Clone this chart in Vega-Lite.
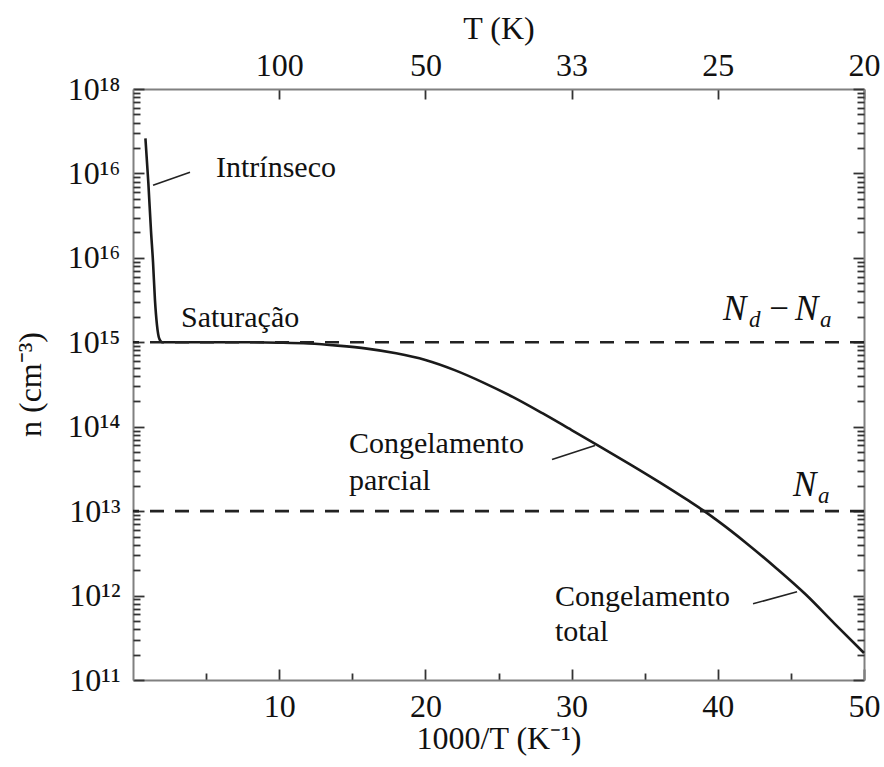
{
  "$schema": "https://vega.github.io/schema/vega-lite/v6.json",
  "width": 731,
  "height": 591,
  "autosize": "none",
  "padding": {"left": 133, "top": 89, "right": 20, "bottom": 87},
  "background": "white",
  "config": {
    "view": {"stroke": null},
    "font": "Liberation Serif, Times New Roman, serif",
    "axis": {
      "labelFont": "Liberation Serif, Times New Roman, serif",
      "titleFont": "Liberation Serif, Times New Roman, serif",
      "labelColor": "#111",
      "titleColor": "#111",
      "labelFontSize": 32,
      "titleFontSize": 32,
      "titleFontWeight": "normal",
      "domainColor": "#808080",
      "domainWidth": 2,
      "tickColor": "#333",
      "tickWidth": 1.8,
      "grid": false,
      "labelOverlap": false,
      "labelBound": false,
      "labelFlush": false
    }
  },
  "datasets": {
    "curve": [
      {"x": 0.85, "n": 2.6e17},
      {"x": 1.05, "n": 7.7e16},
      {"x": 1.23, "n": 2.1e16},
      {"x": 1.37, "n": 8.9e15},
      {"x": 1.5, "n": 3.2e15},
      {"x": 1.64, "n": 1.6e15},
      {"x": 1.8, "n": 1.1e15},
      {"x": 2.0, "n": 1.0e15},
      {"x": 5, "n": 1.0e15},
      {"x": 8, "n": 1.0e15},
      {"x": 10, "n": 9.89e14},
      {"x": 12, "n": 9.66e14},
      {"x": 14, "n": 9.12e14},
      {"x": 16, "n": 8.41e14},
      {"x": 18, "n": 7.41e14},
      {"x": 20, "n": 6.17e14},
      {"x": 22, "n": 4.68e14},
      {"x": 24, "n": 3.31e14},
      {"x": 26, "n": 2.24e14},
      {"x": 28, "n": 1.445e14},
      {"x": 30, "n": 9.12e13},
      {"x": 32, "n": 5.75e13},
      {"x": 34, "n": 3.59e13},
      {"x": 36, "n": 2.21e13},
      {"x": 38, "n": 1.33e13},
      {"x": 39, "n": 1.02e13},
      {"x": 40, "n": 7.67e12},
      {"x": 42, "n": 4.12e12},
      {"x": 44, "n": 2.11e12},
      {"x": 46, "n": 1.035e12},
      {"x": 48, "n": 4.62e11},
      {"x": 50, "n": 2.09e11}
    ],
    "levels": [{"n": 1e15}, {"n": 1e13}],
    "labels": [
      {"x": 5.68, "n": 9.04e16, "text": "Intrínseco"},
      {"x": 3.28, "n": 1.5e15, "text": "Saturação"},
      {"x": 14.77, "n": 4.94e13, "text": "Congelamento"},
      {"x": 14.77, "n": 1.8e13, "text": "parcial"},
      {"x": 28.86, "n": 7.57e11, "text": "Congelamento"},
      {"x": 28.86, "n": 2.88e11, "text": "total"}
    ],
    "pointers": [
      {"x": 1.37, "n": 7.26e16, "x2": 3.9, "n2": 1.035e17},
      {"x": 28.66, "n": 4.08e13, "x2": 31.6, "n2": 5.98e13},
      {"x": 42.41, "n": 8.0e11, "x2": 45.42, "n2": 1.11e12}
    ],
    "mathBig": [
      {"x": 40.36, "n": 1.82e15, "text": "N"},
      {"x": 43.37, "n": 1.82e15, "text": "−"},
      {"x": 45.28, "n": 1.82e15, "text": "N"},
      {"x": 45.14, "n": 1.51e13, "text": "N"}
    ],
    "mathSub": [
      {"x": 42.13, "n": 1.51e15, "text": "d"},
      {"x": 46.99, "n": 1.51e15, "text": "a"},
      {"x": 46.85, "n": 1.26e13, "text": "a"}
    ]
  },
  "resolve": {"axis": {"x": "independent", "y": "independent"}},
  "layer": [
    {
      "data": {"name": "curve"},
      "mark": {"type": "line", "color": "#1a1a1a", "strokeWidth": 2.6, "interpolate": "monotone"},
      "encoding": {
        "x": {
          "field": "x", "type": "quantitative",
          "scale": {"domain": [0, 50], "nice": false, "zero": false},
          "axis": {
            "orient": "bottom",
            "title": "1000/T (K⁻¹)",
            "values": [5, 10, 15, 20, 25, 30, 35, 40, 45, 50],
            "labelExpr": "datum.value % 10 == 0 ? '' + datum.value : ''",
            "tickSize": {"condition": {"test": "datum.value % 10 == 0", "value": -11}, "value": -7},
            "labelPadding": 22,
            "titleBaseline": "middle",
            "titleY": 58
          }
        },
        "y": {
          "field": "n", "type": "quantitative",
          "scale": {"type": "log", "domain": [1e11, 1e18], "nice": false},
          "axis": {
            "orient": "left",
            "title": "n (cm⁻³)",
            "values": [1e11, 1e12, 1e13, 1e14, 1e15, 1e16, 1e17, 1e18],
            "labelExpr": "['10¹¹','10¹²','10¹³','10¹⁴','10¹⁵','10¹⁶','10¹⁶','10¹⁸'][round(log(datum.value)/LN10) - 11]",
            "tickSize": -11,
            "labelPadding": 24,
            "labelBaseline": "middle",
            "titleBaseline": "middle",
            "titleX": -103,
            "titleY": 295
          }
        }
      }
    },
    {
      "data": {"name": "levels"},
      "mark": {"type": "rule", "color": "#222", "strokeWidth": 2.6, "strokeDash": [14, 11]},
      "encoding": {
        "y": {
          "field": "n", "type": "quantitative",
          "axis": {
            "orient": "right",
            "title": null,
            "labels": false,
            "values": [1e11, 1e12, 1e13, 1e14, 1e15, 1e16, 1e17, 1e18],
            "tickSize": -11
          }
        }
      }
    },
    {
      "data": {"name": "pointers"},
      "mark": {"type": "rule", "color": "#222", "strokeWidth": 1.6},
      "encoding": {
        "x": {
          "field": "x", "type": "quantitative",
          "axis": {
            "orient": "top",
            "title": "T (K)",
            "values": [10, 20, 30, 40, 50],
            "labelExpr": "'' + round(1000 / datum.value)",
            "tickSize": -10,
            "labelPadding": 24,
            "labelBaseline": "alphabetic",
            "titleBaseline": "middle",
            "titleY": -61
          }
        },
        "x2": {"field": "x2"},
        "y": {"field": "n", "type": "quantitative", "axis": null},
        "y2": {"field": "n2"}
      }
    },
    {
      "data": {"name": "labels"},
      "mark": {"type": "text", "font": "Liberation Serif, Times New Roman, serif", "fontSize": 30, "align": "left", "baseline": "alphabetic", "color": "#111"},
      "encoding": {
        "x": {"field": "x", "type": "quantitative", "axis": null},
        "y": {
          "field": "n", "type": "quantitative",
          "axis": {
            "orient": "left",
            "title": null,
            "labels": false,
            "domain": false,
            "tickCount": 100,
            "values": [2e11,3e11,4e11,5e11,6e11,7e11,8e11,9e11,2e12,3e12,4e12,5e12,6e12,7e12,8e12,9e12,2e13,3e13,4e13,5e13,6e13,7e13,8e13,9e13,2e14,3e14,4e14,5e14,6e14,7e14,8e14,9e14,2e15,3e15,4e15,5e15,6e15,7e15,8e15,9e15,2e16,3e16,4e16,5e16,6e16,7e16,8e16,9e16,2e17,3e17,4e17,5e17,6e17,7e17,8e17,9e17],
            "tickSize": -7
          }
        },
        "text": {"field": "text"}
      }
    },
    {
      "data": {"name": "mathBig"},
      "mark": {"type": "text", "font": "Liberation Serif, Times New Roman, serif", "fontStyle": "italic", "fontSize": 35, "align": "left", "baseline": "alphabetic", "color": "#111"},
      "encoding": {
        "x": {"field": "x", "type": "quantitative", "axis": null},
        "y": {
          "field": "n", "type": "quantitative",
          "axis": {
            "orient": "right",
            "title": null,
            "labels": false,
            "domain": false,
            "tickCount": 100,
            "values": [2e11,3e11,4e11,5e11,6e11,7e11,8e11,9e11,2e12,3e12,4e12,5e12,6e12,7e12,8e12,9e12,2e13,3e13,4e13,5e13,6e13,7e13,8e13,9e13,2e14,3e14,4e14,5e14,6e14,7e14,8e14,9e14,2e15,3e15,4e15,5e15,6e15,7e15,8e15,9e15,2e16,3e16,4e16,5e16,6e16,7e16,8e16,9e16,2e17,3e17,4e17,5e17,6e17,7e17,8e17,9e17],
            "tickSize": -7
          }
        },
        "text": {"field": "text"}
      }
    },
    {
      "data": {"name": "mathSub"},
      "mark": {"type": "text", "font": "Liberation Serif, Times New Roman, serif", "fontStyle": "italic", "fontSize": 23, "align": "left", "baseline": "alphabetic", "color": "#111"},
      "encoding": {
        "x": {"field": "x", "type": "quantitative", "axis": null},
        "y": {"field": "n", "type": "quantitative", "axis": null},
        "text": {"field": "text"}
      }
    }
  ]
}
